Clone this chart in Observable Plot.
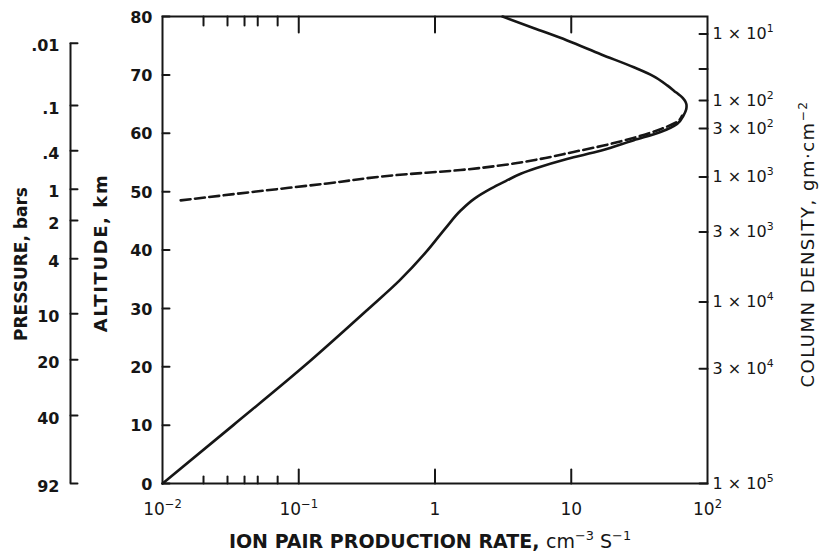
<!DOCTYPE html>
<html>
<head>
<meta charset="utf-8">
<script src="https://cdn.jsdelivr.net/npm/d3@7"></script>
<script src="https://cdn.jsdelivr.net/npm/@observablehq/plot@0.6"></script>
<style>
  html, body { margin: 0; padding: 0; background: #fff; }
</style>
</head>
<body>
<div id="chart"></div>
<script>
// ---- Data ----
// Solid curve: ion pair production rate (cm^-3 s^-1) vs altitude (km)
const solidRate = [0.01, 0.0331, 0.107, 0.324, 0.55, 0.871, 1.20, 1.55, 1.95, 2.57, 3.3, 4.3, 5.5, 9.3, 16.4, 28.8, 45.2, 59.9, 66.5, 69.8, 70.2, 69.2, 66, 56.6, 50.6, 40, 28.8, 16.6, 9.33, 5.33, 3.13];
const solidAlt  = [0, 10, 19.9, 29.9, 34.8, 39.8, 43.8, 46.8, 48.8, 50.5, 51.8, 53.1, 54.0, 55.6, 57.0, 58.8, 60.2, 61.6, 63.0, 64.1, 64.7, 65.3, 66.0, 67.3, 68.2, 69.8, 71.3, 73.5, 75.9, 78.0, 80];
// Dashed curve
const dashRate = [0.0136, 0.0524, 0.162, 0.5, 1.54, 3.29, 5.94, 10.4, 17.3, 29.6, 45.2, 60.3, 65];
const dashAlt  = [48.5, 50.1, 51.4, 52.8, 53.7, 54.6, 55.6, 56.8, 57.9, 59.3, 60.7, 62.0, 63.0];

// Axes
const xDomain = [0.01, 100];
const yDomain = [0, 80];
const xMajor = [0.01, 0.1, 1, 10, 100];
const xMajorLabels = ["10^{−2}", "10^{−1}", "1", "10", "10^{2}"];
const xMinor = [0.02, 0.03, 0.04, 0.05, 0.07];
const altTicks = [0, 10, 20, 30, 40, 50, 60, 70, 80];

// Pressure axis (bars) – altitude of each tick
const pressureLabels = [".01", ".1", ".4", "1", "2", "4", "10", "20", "40", "92"];
const pressureAlt    = [75.4, 64.75, 57.0, 50.4, 45.05, 38.5, 29.1, 21.2, 11.65, 0];

// Column density axis (gm·cm^-2) – altitude of each tick
const columnLabels = ["1 × 10^{1}", "", "1 × 10^{2}", "3 × 10^{2}", "1 × 10^{3}", "3 × 10^{3}", "1 × 10^{4}", "3 × 10^{4}", "1 × 10^{5}"];
const columnAlt    = [77.0, 71.0, 65.6, 60.8, 52.5, 43.1, 31.1, 19.65, 0];

// Titles
const titleX = "ION PAIR PRODUCTION RATE, [cm^{−3} S^{−1}]";
const titleAlt = "ALTITUDE, km";
const titlePressure = "PRESSURE, bars";
const titleColumn = "COLUMN DENSITY, gm·cm^{−2}";

// ---- Build tables ----
const solid = solidRate.map((r, i) => ({rate: r, alt: solidAlt[i]}));
const dashed = dashRate.map((r, i) => ({rate: r, alt: dashAlt[i]}));
const pressure = pressureLabels.map((label, i) => ({label, alt: pressureAlt[i]}));
const column = columnLabels.map((label, i) => ({label, alt: columnAlt[i]}));
const xLab = xMajor.map((v, i) => ({v, label: xMajorLabels[i]}));
const innerMajor = xMajor.slice(1, -1);

const ink = "#161616";
const tickShape = {draw(ctx, l) { ctx.moveTo(0, 0); ctx.lineTo(0, -l); }};
const tick = (data, o) => Plot.vector(data, {shape: tickShape, anchor: "start", stroke: ink, strokeWidth: 2, ...o});

const chart = Plot.plot({
  width: 820,
  height: 556,
  marginLeft: 162,
  marginRight: 113,
  marginTop: 16,
  marginBottom: 73,
  style: {fontFamily: "DejaVu Sans", fontSize: "16px", background: "#fff", color: ink},
  x: {type: "log", domain: xDomain, axis: null},
  y: {domain: yDomain, axis: null},
  marks: [
    Plot.frame({stroke: ink, strokeWidth: 2}),
    // bottom & top ticks (inward)
    tick(xMinor, {x: d => d, y: () => yDomain[0], rotate: 0, length: 7}),
    tick(innerMajor, {x: d => d, y: () => yDomain[0], rotate: 0, length: 14}),
    tick(xMinor, {x: d => d, y: () => yDomain[1], rotate: 180, length: 9}),
    tick(innerMajor, {x: d => d, y: () => yDomain[1], rotate: 180, length: 16}),
    // altitude ticks (left, inward)
    tick(altTicks, {x: () => xDomain[0], y: d => d, rotate: 90, length: 7}),
    // column density ticks (right, inward)
    tick(column, {x: () => xDomain[1], y: "alt", rotate: -90, length: 8}),
    // pressure axis
    Plot.ruleX([0], {x: () => xDomain[0], y1: () => d3.min(pressureAlt), y2: () => d3.max(pressureAlt), dx: -92, stroke: ink, strokeWidth: 2}),
    tick(pressure, {x: () => xDomain[0], y: "alt", rotate: 90, length: 7, dx: -92}),
    // curves
    Plot.line(solid, {x: "rate", y: "alt", curve: "monotone-y", stroke: ink, strokeWidth: 2.6, strokeLinecap: "round"}),
    Plot.line(dashed, {x: "rate", y: "alt", curve: "monotone-y", stroke: ink, strokeWidth: 2.6, strokeDasharray: "10,4.5"}),
    // tick labels
    Plot.text(altTicks, {x: () => xDomain[0], y: d => d, text: d => String(d), textAnchor: "end", dx: -10, dy: 1, fontWeight: "bold", fontSize: 16, fill: ink}),
    Plot.text(pressure, {x: () => xDomain[0], y: "alt", text: "label", textAnchor: "end", dx: -103, dy: 3, fontWeight: "bold", fontSize: 16, fill: ink}),
    Plot.text(column, {x: () => xDomain[1], y: "alt", text: "label", textAnchor: "start", dx: 5, fontSize: 16, fill: ink}),
    Plot.text(xLab, {x: "v", y: () => yDomain[0], text: "label", dy: 26, fontSize: 17, fill: ink}),
    // titles
    Plot.text([titlePressure], {frameAnchor: "left", textAnchor: "middle", dx: -141, dy: 14, rotate: -90, text: d => d, fontWeight: "bold", fontSize: 17, fill: ink}),
    Plot.text([titleAlt], {frameAnchor: "left", textAnchor: "middle", dx: -61, dy: 3, rotate: -90, text: d => d, fontWeight: "bold", fontSize: 18, fill: ink}),
    Plot.text([titleColumn], {frameAnchor: "right", textAnchor: "middle", dx: 101, dy: -6, rotate: -90, text: d => d, fontSize: 18, fill: ink}),
    Plot.text([titleX], {x: () => 1, y: () => yDomain[0], dx: -5, dy: 58, text: d => d, fontWeight: "bold", fontSize: 19, fill: ink})
  ]
});

document.getElementById("chart").appendChild(chart);

// Letter spacing to match the wide hand lettering of the source
for (const t of chart.querySelectorAll("text")) {
  if (t.textContent === titleAlt) t.style.letterSpacing = "1.6px";
  if (t.textContent === titleColumn) t.style.letterSpacing = "1.5px";
}

// Turn ^{...} into superscripts and [...] into normal-weight runs
function rich(svg) {
  const NS = "http://www.w3.org/2000/svg";
  for (const t of svg.querySelectorAll("text")) {
    const s = t.textContent;
    if (!/[\^\[]/.test(s)) continue;
    const fs = parseFloat(getComputedStyle(t).fontSize) || 16;
    t.textContent = "";
    const tokens = s.split(/(\^\{[^}]*\}|\[|\])/).filter(x => x !== "");
    let normal = false, raised = false;
    for (const tok of tokens) {
      if (tok === "[") { normal = true; continue; }
      if (tok === "]") { normal = false; continue; }
      const ts = document.createElementNS(NS, "tspan");
      if (tok.startsWith("^{")) {
        ts.textContent = tok.slice(2, -1);
        ts.setAttribute("font-size", (fs * 0.68).toFixed(1));
        ts.setAttribute("dy", (-fs * 0.42).toFixed(1));
        raised = true;
      } else {
        ts.textContent = tok;
        if (raised) { ts.setAttribute("dy", (fs * 0.42).toFixed(1)); raised = false; }
      }
      if (normal) ts.setAttribute("font-weight", "normal");
      t.appendChild(ts);
    }
  }
}
rich(chart);
</script>
</body>
</html>
